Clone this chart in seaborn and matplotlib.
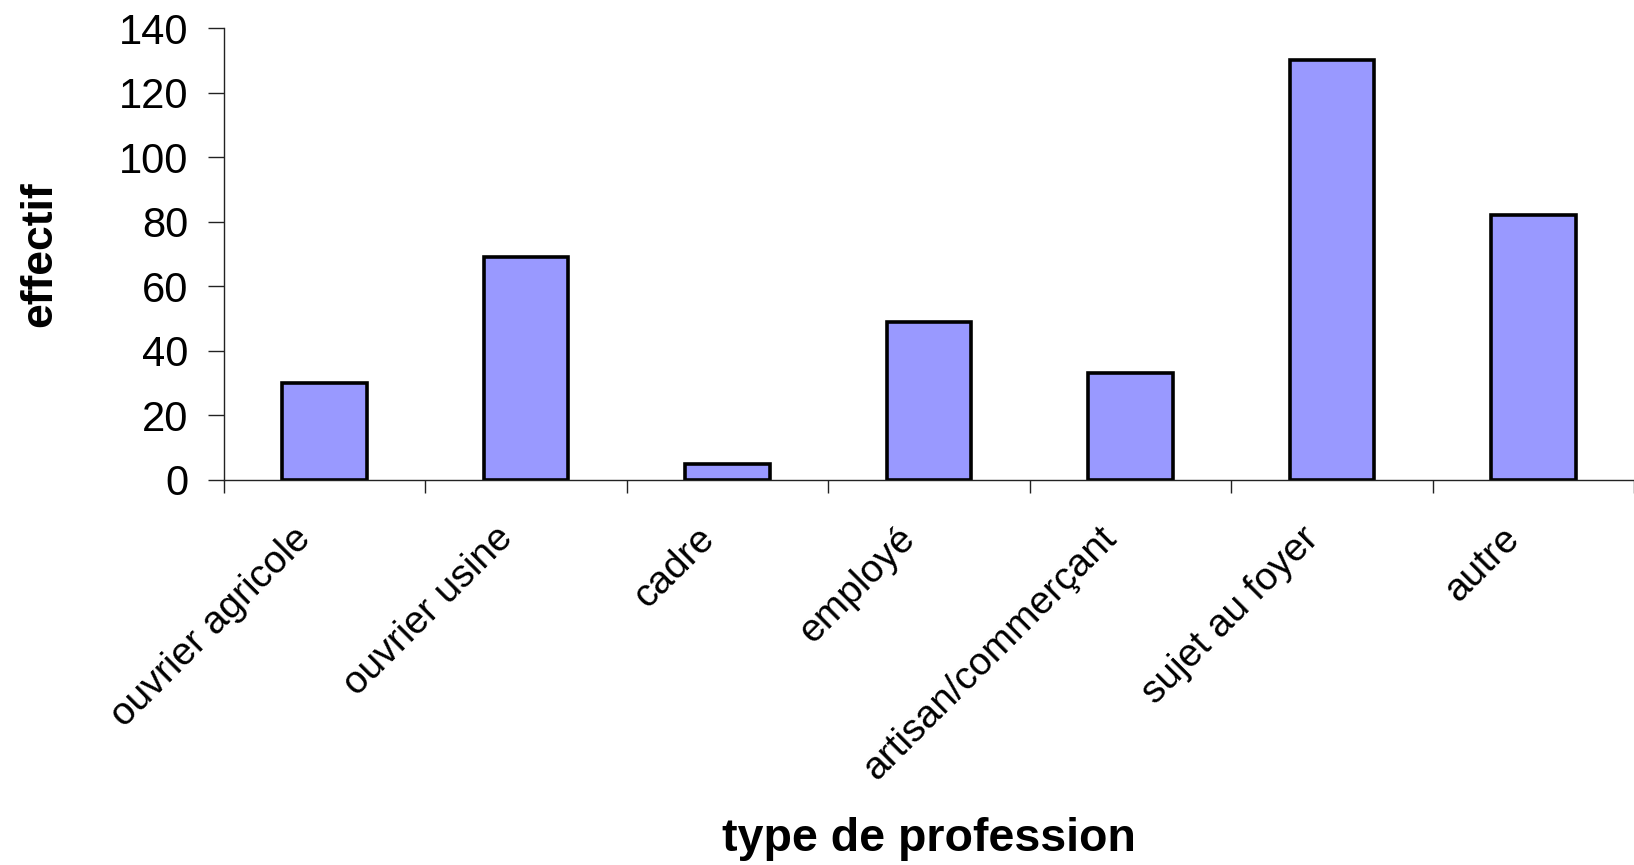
import matplotlib
matplotlib.use("Agg")
import matplotlib.pyplot as plt
import matplotlib.transforms as mtransforms
import seaborn as sns
import numpy as np

# Effectifs par type de profession
professions = ["ouvrier agricole", "ouvrier usine", "cadre", "employé",
               "artisan/commerçant", "sujet au foyer", "autre"]
effectifs = [30, 69, 5, 49, 33, 130, 82]
y_ticks = [0, 20, 40, 60, 80, 100, 120, 140]

sns.set_theme(style="white")
plt.rcParams["font.family"] = ["Liberation Sans", "DejaVu Sans"]
plt.rcParams["text.color"] = "black"
plt.rcParams["axes.labelcolor"] = "black"

fig = plt.figure(figsize=(16.34, 8.65), dpi=100)
ax = fig.add_axes([224 / 1634, 1 - 480 / 865, 1 - 224 / 1634, (480 - 28) / 865])

sns.barplot(x=professions, y=effectifs, color="#9999FF", saturation=1,
            edgecolor="black", linewidth=2.6, width=0.42, ax=ax)

ax.set_ylim(0, 140)
ax.set_xlim(-0.5, 6.44)
ax.set_yticks(y_ticks)
ax.set_yticklabels([str(v) for v in y_ticks], fontsize=30)

# category labels at centres, tick marks at category boundaries
ax.set_xticks(np.arange(len(professions)))
ax.set_xticklabels(professions, fontsize=28, rotation=45,
                   ha="right", va="center", rotation_mode="anchor")
ax.set_xticks(np.arange(-0.5, len(professions), 1.0), minor=True)
ax.tick_params(axis="x", which="major", bottom=True, length=0, pad=38)
ax.tick_params(axis="x", which="minor", bottom=True, length=9.5, width=1.0,
               color="#222222", direction="out")
ax.tick_params(axis="y", which="major", left=True, length=11.5, width=1.0,
               color="#222222", direction="out", pad=14)
ax.tick_params(axis="both", labelcolor="black")

shift = mtransforms.ScaledTranslation(-19 / 100, 0, fig.dpi_scale_trans)
for lbl in ax.get_xticklabels():
    lbl.set_transform(lbl.get_transform() + shift)

for side in ("top", "right"):
    ax.spines[side].set_visible(False)
for side in ("left", "bottom"):
    ax.spines[side].set_color("#222222")
    ax.spines[side].set_linewidth(1.0)

ax.set_ylabel("effectif", fontsize=32, fontweight="bold", labelpad=0,
              color="black")
ax.yaxis.set_label_coords(-(224 - 40) / 1410, 0.5)
ax.set_xlabel("type de profession", fontsize=33.5, fontweight="bold",
              color="black")
ax.xaxis.set_label_coords(0.5, -(839 - 480) / 452)
ax.xaxis.label.set_va("center")
ax.yaxis.label.set_va("center")

fig.savefig("out.png", dpi=100, facecolor="white")
